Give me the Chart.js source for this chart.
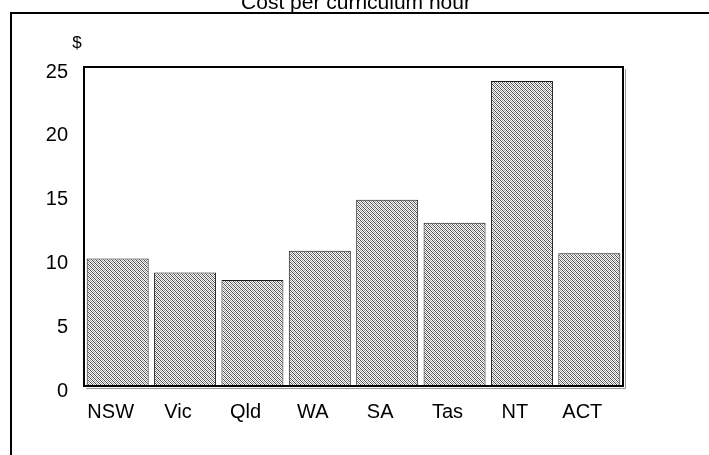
<!DOCTYPE html>
<html>
<head>
<meta charset="utf-8">
<script src="https://cdn.jsdelivr.net/npm/chart.js@4/dist/chart.umd.min.js"></script>
<style>
  html, body { margin: 0; padding: 0; background: #ffffff; }
  #wrap { width: 709px; height: 455px; position: relative; }
</style>
</head>
<body>
<div id="wrap"><canvas id="c" width="709" height="455"></canvas></div>
<script>
// ---- data ----
const chartTitle = "Cost per curriculum hour";
const unitLabel = "$";
const categories = ["NSW", "Vic", "Qld", "WA", "SA", "Tas", "NT", "ACT"];
const costValues = [10.0, 8.9, 8.3, 10.6, 14.6, 12.8, 23.9, 10.4];
const yTicks = [0, 5, 10, 15, 20, 25];

const FONT = "'Liberation Sans', Arial, sans-serif";

// fine dither fill pattern
function makePattern() {
  const p = document.createElement('canvas');
  p.width = 4; p.height = 4;
  const g = p.getContext('2d');
  g.fillStyle = '#ffffff';
  g.fillRect(0, 0, 4, 4);
  for (let x = 0; x < 4; x++) {
    for (let y = 0; y < 4; y++) {
      if (((x - y) % 4 + 4) % 4 === 0) { g.fillStyle = '#4a4a4a'; g.fillRect(x, y, 1, 1); }
      else if ((x + y) % 2 === 0) { g.fillStyle = '#9a9a9a'; g.fillRect(x, y, 1, 1); }
    }
  }
  return g.createPattern(p, 'repeat');
}

const ctx0 = document.getElementById('c').getContext('2d');
const pattern = makePattern();

const framePlugin = {
  id: 'framePlugin',
  beforeDraw(chart) {
    const ctx = chart.ctx;
    ctx.save();
    ctx.fillStyle = '#ffffff';
    ctx.fillRect(0, 0, chart.width, chart.height);
    // outer frame (left & top visible)
    ctx.strokeStyle = '#000000';
    ctx.lineWidth = 2;
    ctx.beginPath();
    ctx.moveTo(11, chart.height + 2);
    ctx.lineTo(11, 13);
    ctx.lineTo(chart.width + 2, 13);
    ctx.stroke();
    // title (partly cut off at the top)
    ctx.fillStyle = '#000000';
    ctx.font = '21px ' + FONT;
    ctx.textAlign = 'center';
    ctx.textBaseline = 'alphabetic';
    ctx.fillText(chartTitle, 356, 9);
    // unit label
    ctx.font = '17px ' + FONT;
    ctx.textBaseline = 'middle';
    ctx.fillText(unitLabel, 77, 43);
    ctx.restore();
  },
  afterDatasetsDraw(chart) {
    const a = chart.chartArea;
    const ctx = chart.ctx;
    ctx.save();
    // faint shadow
    ctx.strokeStyle = '#9a9a9a';
    ctx.lineWidth = 1;
    ctx.beginPath();
    ctx.moveTo(a.right + 2.5, a.top + 2);
    ctx.lineTo(a.right + 2.5, a.bottom + 2.5);
    ctx.lineTo(a.left + 2, a.bottom + 2.5);
    ctx.stroke();
    ctx.strokeStyle = '#000000';
    ctx.lineWidth = 2;
    ctx.strokeRect(a.left, a.top, a.right - a.left, a.bottom - a.top);
    ctx.restore();
  }
};

new Chart(ctx0, {
  type: 'bar',
  data: {
    labels: categories,
    datasets: [{
      label: chartTitle,
      data: costValues,
      backgroundColor: pattern,
      borderColor: '#1a1a1a',
      borderWidth: 1,
      barPercentage: 0.92,
      categoryPercentage: 1.0
    }]
  },
  options: {
    responsive: false,
    animation: false,
    devicePixelRatio: 1,
    layout: { padding: { left: 0, top: 67, right: 86, bottom: 0 } },
    plugins: {
      legend: { display: false },
      title: { display: false },
      tooltip: { enabled: false }
    },
    scales: {
      x: {
        grid: { display: false, drawTicks: false },
        border: { display: false },
        ticks: {
          color: '#000000',
          font: { family: FONT, size: 20 },
          padding: 14,
          labelOffset: -7,
          maxRotation: 0,
          autoSkip: false
        },
        afterFit(scale) { scale.height = 69; }
      },
      y: {
        min: 0,
        max: 25,
        afterBuildTicks(scale) { scale.ticks = yTicks.map(v => ({ value: v })); },
        grid: { display: false, drawTicks: false },
        border: { display: false },
        ticks: {
          color: '#000000',
          font: { family: FONT, size: 20, lineHeight: '10px' },
          padding: 16,
          callback: (v) => ['', String(v)]
        },
        afterFit(scale) { scale.width = 84; }
      }
    }
  },
  plugins: [framePlugin]
});
</script>
</body>
</html>
